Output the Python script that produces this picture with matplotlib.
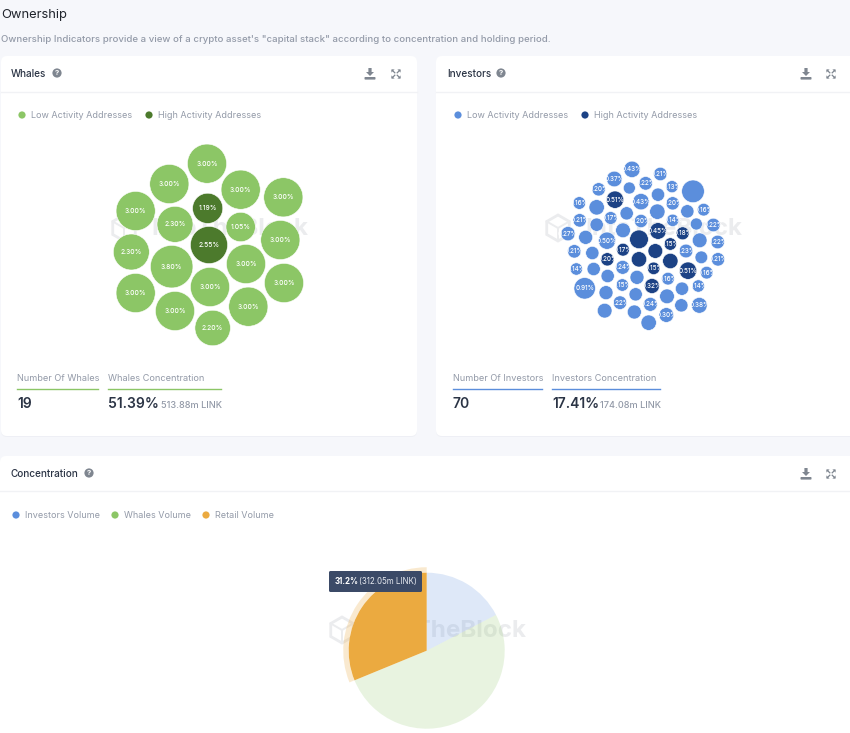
"""
Ownership panel: whales / investors packed bubbles and the concentration pie.
Page is laid out in pixels so it lines up with the 850x733 screenshot.
"""
import numpy as np
import matplotlib
matplotlib.use('Agg')
import matplotlib.pyplot as plt
from matplotlib.patches import Circle, FancyBboxPatch, Polygon, Wedge

plt.rcParams['font.family'] = ['Inter', 'DejaVu Sans']

# Whales
whale_values = [3.00, 3.00, 3.00, 3.00, 3.00, 1.19, 2.30, 1.05, 3.00, 2.30,
                2.55, 3.80, 3.00, 3.00, 3.00, 3.00, 3.00, 3.00, 2.20]
whale_high = [0, 0, 0, 0, 0, 1, 0, 0, 0, 0, 1, 0, 0, 0, 0, 0, 0, 0, 0]
# packed bubble layout has no data meaning
whale_x = [321, 208, 422, 550, 107, 323, 225, 422, 541, 94,
           327, 215, 438, 330, 552, 107, 225, 445, 338]
whale_y = [86, 147, 164, 187, 228, 220, 268, 276, 315, 351,
           330, 395, 387, 456, 444, 474, 528, 515, 579]

# Investors (values without a printed label are estimated from bubble size)
inv_values = [0.43, 0.21, 0.37, 0.22, 0.13, 0.20, 0.12, 1.04, 0.20, 0.51,
              0.43, 0.20, 0.16, 0.35, 0.35, 0.16, 0.20, 0.20, 0.17, 0.21,
              0.20, 0.14, 0.20, 0.12, 0.22, 0.30, 0.45, 0.27, 0.25, 0.18,
              0.63, 0.30, 0.22, 0.50, 0.15, 0.21, 0.30, 0.17, 0.23, 0.20,
              0.16, 0.35, 0.21, 0.20, 0.35, 0.24, 0.14, 0.20, 0.15, 0.51,
              0.16, 0.20, 0.25, 0.16, 0.91, 0.15, 0.32, 0.20, 0.14, 0.25,
              0.20, 0.30, 0.22, 0.24, 0.38, 0.20, 0.30, 0.25, 0.30, 0.35]
inv_high = [0, 0, 0, 0, 0, 0, 0, 0, 0, 1,
            0, 0, 0, 0, 0, 0, 0, 0, 0, 0,
            0, 0, 0, 0, 0, 0, 1, 0, 0, 1,
            1, 0, 0, 0, 1, 0, 1, 1, 0, 0,
            0, 1, 0, 1, 1, 0, 0, 0, 1, 1,
            0, 0, 0, 0, 0, 0, 1, 0, 0, 0,
            0, 0, 0, 0, 0, 0, 0, 0, 0, 0]
inv_labelled = [1, 1, 1, 1, 1, 1, 0, 0, 0, 1,
                1, 1, 1, 0, 0, 1, 0, 0, 1, 1,
                1, 1, 0, 0, 1, 0, 1, 1, 0, 1,
                0, 0, 1, 1, 1, 1, 0, 1, 1, 0,
                0, 0, 1, 1, 0, 1, 1, 0, 1, 1,
                1, 0, 0, 1, 1, 1, 1, 0, 1, 0,
                0, 0, 1, 1, 1, 0, 0, 0, 1, 0]
inv_x = [261, 346, 208, 302, 381, 161, 253, 444, 339, 210,
         288, 383, 103, 155, 337, 476, 427, 245, 197, 104,
         288, 383, 155, 454, 505, 234, 339, 69, 122, 413,
         282, 464, 518, 186, 376, 88, 331, 234, 423, 142,
         469, 282, 519, 187, 376, 233, 94, 146, 326, 429,
         485, 188, 276, 369, 119, 232, 321, 411, 460, 183,
         272, 366, 225, 316, 463, 409, 179, 268, 364, 311]
inv_y = [58, 72, 87, 100, 110, 118, 114, 124, 134, 149,
         155, 160, 159, 172, 185, 179, 184, 190, 204, 211,
         213, 211, 224, 222, 225, 241, 243, 251, 262, 250,
         268, 271, 276, 272, 282, 304, 303, 299, 303, 309,
         322, 328, 328, 328, 333, 352, 357, 357, 355, 362,
         368, 378, 382, 386, 415, 405, 408, 416, 408, 428,
         433, 439, 458, 463, 466, 466, 482, 486, 495, 518]

# Concentration
conc_names = ['Investors Volume', 'Whales Volume', 'Retail Volume']
conc_values = [17.41, 51.39, 31.2]
retail_amount = '312.05m LINK'

# Stats under the bubbles
whale_count = '19'
whale_share = '51.39%'
whale_amount = '513.88m LINK'
inv_count = '70'
inv_share = '17.41%'
inv_amount = '174.08m LINK'

GREEN = '#8cc666'
GREEN_DARK = '#4c7a2c'
BLUE = '#5b8edc'
NAVY = '#1c4285'
ORANGE = '#ebaa40'
INK = '#2b3445'
MUTED = '#939aa8'
ICON = '#7f8690'
LINE = '#f1f2f5'
WATERMARK = '#ebecee'

W, H = 850, 733
fig = plt.figure(figsize=(W / 100, H / 100), dpi=100, facecolor='#f6f7fb')


def px_axes(left, top, width, height, zorder=1):
    ax = fig.add_axes([left / W, 1 - (top + height) / H, width / W, height / H],
                      zorder=zorder)
    ax.patch.set_alpha(0)
    ax.axis('off')
    return ax


page = px_axes(0, 0, W, H)
page.set_xlim(0, W)
page.set_ylim(H, 0)


def card(x0, y0, x1, y1, header_y):
    page.add_patch(FancyBboxPatch((x0, y0), x1 - x0, y1 - y0,
                                  boxstyle='round,pad=0,rounding_size=6',
                                  fc='#e9ebf1', ec='none', alpha=0.6,
                                  transform=page.transData + matplotlib.transforms.Affine2D().translate(0, -1)))
    page.add_patch(FancyBboxPatch((x0, y0), x1 - x0, y1 - y0,
                                  boxstyle='round,pad=0,rounding_size=6',
                                  fc='white', ec='none'))
    page.plot([x0, x1], [header_y, header_y], color=LINE, lw=1)


def help_icon(x, y):
    page.add_patch(Circle((x, y), 4.6, fc=ICON, ec='none'))
    page.text(x, y + 0.2, '?', color='white', fontsize=5.5, fontweight='bold',
              ha='center', va='center')


def download_icon(x, y):
    page.add_patch(Polygon([[x - 1.6, y - 6], [x + 1.6, y - 6], [x + 1.6, y - 2],
                            [x + 4, y - 2], [x, y + 2], [x - 4, y - 2], [x - 1.6, y - 2]],
                           fc=ICON, ec='none'))
    page.add_patch(FancyBboxPatch((x - 5.5, y + 3), 11, 2.6,
                                  boxstyle='round,pad=0,rounding_size=0.8',
                                  fc=ICON, ec='none'))


def expand_icon(x, y):
    for sx in (-1, 1):
        for sy in (-1, 1):
            page.add_patch(Polygon([[x + sx * 4.6, y + sy * 4.6], [x + sx * 1.4, y + sy * 4.6],
                                    [x + sx * 4.6, y + sy * 1.4]], fc=ICON, ec='none'))
            page.plot([x + sx * 1.2, x + sx * 3.6], [y + sy * 1.2, y + sy * 3.6],
                      color=ICON, lw=0.9)


def legend_item(x, y, color, label):
    page.add_patch(Circle((x, y), 3.6, fc=color, ec='none'))
    page.text(x + 9, y, label, color=MUTED, fontsize=6.5, va='center')


def watermark(x, y):
    # cube logo then the word, sits behind the chart
    ang = np.radians(np.arange(30, 390, 60))
    hex_pts = np.column_stack([x + 13 * np.cos(ang), y + 13 * np.sin(ang)])
    page.add_patch(Polygon(hex_pts, fc='none', ec=WATERMARK, lw=2.0))
    for a in (150, 30, 270):
        t = np.radians(a)
        page.plot([x, x + 13 * np.cos(t)], [y, y - 13 * np.sin(t)], color=WATERMARK, lw=1.4)
    page.text(x + 27, y + 1, 'IntoTheBlock', color=WATERMARK, fontsize=17.4,
              fontweight='bold', va='center')


def stat(y, color, x1, w1, x2, w2, label1, label2, count, share, amount, amount_x):
    page.text(x1, y + 0.5, label1, color=MUTED, fontsize=6.6, va='center')
    page.text(x2, y + 0.5, label2, color=MUTED, fontsize=6.6, va='center')
    page.plot([x1, x1 + w1], [y + 11, y + 11], color=color, lw=1.0)
    page.plot([x2, x2 + w2], [y + 11, y + 11], color=color, lw=1.0)
    page.text(x1, y + 26, count, color=INK, fontsize=10, fontweight='semibold', va='center')
    page.text(x2, y + 26, share, color=INK, fontsize=10, fontweight='semibold', va='center')
    page.text(amount_x, y + 27.5, amount, color=MUTED, fontsize=6.6, fontweight='medium', va='center')


def bubbles(ax, xs, ys, values, highs, labelled, low_color, high_color, r2_base, r2_slope, fs):
    # radius squared grows linearly with the value
    for x, y, v, hi, lab in zip(xs, ys, values, highs, labelled):
        r = 3 * np.sqrt(r2_base + r2_slope * v)
        c = Circle((x, y), r, fc=high_color if hi else low_color, ec='white', lw=0.4)
        ax.add_patch(c)
        if lab:
            t = ax.text(x, y, '%.2f%%' % v, color='white', fontsize=fs, fontweight='medium',
                        ha='center', va='center')
            t.set_clip_path(c)


# headings
page.text(1, 15, 'Ownership', color='#20242c', fontsize=9.3, va='center')
page.text(1, 40, 'Ownership Indicators provide a view of a crypto asset\'s "capital stack" '
          'according to concentration and holding period.',
          color=MUTED, fontsize=6.93, fontweight='medium', va='center')

card(1, 56, 417, 436, 92)
card(436, 56, 870, 436, 92)
card(0, 456, 870, 760, 491)

page.text(11, 74, 'Whales', color=INK, fontsize=7.2, fontweight='medium', va='center')
page.text(447, 74, 'Investors', color=INK, fontsize=7.2, fontweight='medium', va='center')
page.text(11, 474, 'Concentration', color=INK, fontsize=7.2, fontweight='medium', va='center')
for hx, hy in [(57, 73), (501, 73), (89, 473)]:
    help_icon(hx, hy)
for ix, iy in [(370, 74), (806, 74), (806, 474)]:
    download_icon(ix, iy)
for ix, iy in [(396, 74), (831, 74), (831, 474)]:
    expand_icon(ix, iy)

legend_item(22, 115, GREEN, 'Low Activity Addresses')
legend_item(149, 115, GREEN_DARK, 'High Activity Addresses')
legend_item(458, 115, BLUE, 'Low Activity Addresses')
legend_item(585, 115, NAVY, 'High Activity Addresses')
for lx, col, name in zip([16, 115, 206], [BLUE, GREEN, ORANGE], conc_names):
    legend_item(lx, 515, col, name)

watermark(124, 228)
watermark(558, 228)
watermark(342, 630)

stat(378, GREEN, 17, 81, 108, 113, 'Number Of Whales', 'Whales Concentration',
     whale_count, whale_share, whale_amount, 161)
stat(378, BLUE, 453, 89, 552, 108, 'Number Of Investors', 'Investors Concentration',
     inv_count, inv_share, inv_amount, 600)

# Whales bubbles
ax_w = px_axes(100, 135, 220, 220, zorder=2)
ax_w.set_xlim(0, 660)
ax_w.set_ylim(660, 0)
bubbles(ax_w, whale_x, whale_y, whale_values, whale_high, [1] * len(whale_values),
        GREEN, GREEN_DARK, 126, 86, 4.8)

# Investors bubbles
ax_i = px_axes(545, 150, 190, 190, zorder=2)
ax_i.set_xlim(0, 570)
ax_i.set_ylim(570, 0)
bubbles(ax_i, inv_x, inv_y, inv_values, inv_high, inv_labelled,
        BLUE, NAVY, 24, 100, 4.6)

# Concentration pie, the retail slice is hovered so the others are faded
ax_p = px_axes(426.7 - 97.5, 650.7 - 97.5, 195, 195, zorder=2)
wedges, _ = ax_p.pie(conc_values, colors=[BLUE, GREEN, ORANGE], startangle=90,
                     counterclock=False, radius=1,
                     wedgeprops={'linewidth': 0})
wedges[0].set_alpha(0.2)
wedges[1].set_alpha(0.2)
ax_p.add_patch(Wedge(wedges[2].center, 1.07, wedges[2].theta1, wedges[2].theta2, width=0.07,
                     fc=ORANGE, ec='none', alpha=0.25))

# tooltip on top of everything
top = px_axes(0, 0, W, H, zorder=5)
top.set_xlim(0, W)
top.set_ylim(H, 0)
top.add_patch(FancyBboxPatch((329, 571), 93, 21, boxstyle='round,pad=0,rounding_size=1.5',
                             fc='#3b4a67', ec='none'))
top.text(334.5, 581.5, '%.1f%%' % conc_values[2], color='white', fontsize=5.7,
         fontweight='bold', va='center')
top.text(359, 581.5, '(%s)' % retail_amount, color='#e8ebf1', fontsize=5.7, va='center')

fig.savefig('out.png', dpi=100, facecolor=fig.get_facecolor())
